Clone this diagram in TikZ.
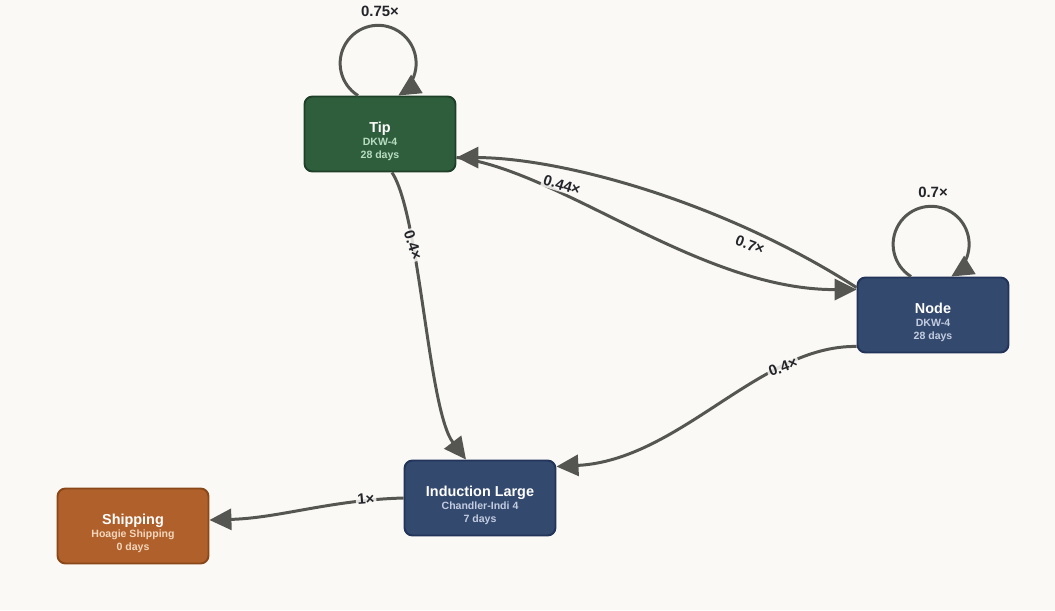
\documentclass[tikz,border=0pt]{standalone}
\usepackage{fontspec}
\setmainfont{Liberation Sans}
\usetikzlibrary{arrows.meta}

\definecolor{bg}{HTML}{FAF9F5}
\definecolor{edgegray}{HTML}{555652}
\definecolor{tipfill}{HTML}{2F5E3D}
\definecolor{tipline}{HTML}{1E3F28}
\definecolor{tipsub}{HTML}{B8DCC0}
\definecolor{bluefill}{HTML}{34496E}
\definecolor{blueline}{HTML}{22345A}
\definecolor{bluesub}{HTML}{C3CCE0}
\definecolor{shipfill}{HTML}{B0612B}
\definecolor{shipline}{HTML}{8A4818}
\definecolor{shipsub}{HTML}{F2D6BC}
\definecolor{lbltext}{HTML}{24252A}

\tikzset{
    stage/.style={draw, rounded corners=4.5pt, line width=1.1pt, minimum width=3.02cm,
        minimum height=1.5cm, inner sep=0pt, align=center, text=white,
        font=\fontsize{6}{7.4}\selectfont\bfseries},
    flow/.style={draw=edgegray, line width=1.7pt, -{Triangle[length=12.5pt,width=12pt]}},
    wt/.style={text=lbltext, font=\fontsize{8.5}{10}\selectfont\bfseries, fill=bg,
        fill opacity=0.85, text opacity=1, inner sep=1pt}
}

\newcommand{\stagetext}[4]{{\fontsize{8.2}{9}\selectfont\rule{0pt}{14.5pt}#1}\\\textcolor{#4}{#2}\\\textcolor{#4}{#3}}

\begin{document}
\begin{tikzpicture}[x=0.02cm, y=0.02cm]
    \fill[bg] (0,0) rectangle (1055,610);
    \useasboundingbox (0,0) rectangle (1055,610);

    \node[stage, fill=tipfill, draw=tipline] (tip) at (380,476) {\stagetext{Tip}{DKW-4}{28 days}{tipsub}};
    \node[stage, fill=bluefill, draw=blueline] (nd) at (933,295) {\stagetext{Node}{DKW-4}{28 days}{bluesub}};
    \node[stage, fill=bluefill, draw=blueline] (ind) at (480,112) {\stagetext{Induction Large}{Chandler-Indi 4}{7 days}{bluesub}};
    \node[stage, fill=shipfill, draw=shipline] (ship) at (133,84) {\stagetext{Shipping}{Hoagie Shipping}{0 days}{shipsub}};

    % loops
    \draw[flow] ([xshift=-22*0.02cm]tip.north) arc[start angle=238, end angle=-58, radius=38];
    \draw[flow] ([xshift=-22*0.02cm]nd.north) arc[start angle=238, end angle=-58, radius=38];

    % edges
    \draw[flow] ([xshift=12*0.02cm]tip.south) .. controls (420,395) and (428,200) .. ([xshift=-14*0.02cm]ind.north);
    \draw[flow] ([yshift=7*0.02cm]nd.south west) .. controls (760,265) and (680,150) .. ([yshift=-7*0.02cm]ind.north east);
    \draw[flow] (ind.west) .. controls (330,110) and (280,92) .. ([yshift=6*0.02cm]ship.east);
    \draw[flow] ([yshift=-11*0.02cm]nd.north west) .. controls (720,410) and (560,452) .. ([yshift=15*0.02cm]tip.south east);
    \draw[flow] ([yshift=15*0.02cm]tip.south east) .. controls (560,440) and (700,320) .. ([yshift=-13*0.02cm]nd.north west);

    % weights
    \node[wt] at (380,599) {0.75×};
    \node[wt] at (933,418) {0.7×};
    \node[wt, rotate=-17] at (562,425) {0.44×};
    \node[wt, rotate=-20] at (750,365) {0.7×};
    \node[wt, rotate=-72] at (413,365) {0.4×};
    \node[wt, rotate=20] at (783,243) {0.4×};
    \node[wt, rotate=5] at (366,111) {1×};
\end{tikzpicture}
\end{document}
